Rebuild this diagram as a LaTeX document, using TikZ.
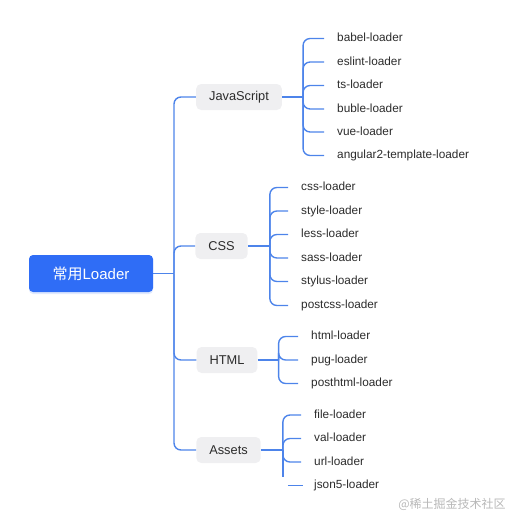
\documentclass[tikz,border=0pt]{standalone}
\usepackage{fontspec}
\setmainfont{Liberation Sans}
\newfontfamily\cjk{Noto Sans CJK SC}
\usetikzlibrary{positioning, shadows}

\definecolor{rootblue}{HTML}{2F6DF6}
\definecolor{linkblue}{HTML}{4D84EA}
\definecolor{catgrey}{HTML}{EFEFF1}
\definecolor{inkgrey}{HTML}{2B2B2B}

\tikzset{
  link/.style={draw=linkblue, line width=1.4pt, rounded corners=7pt},
  tip/.style={link, shorten >=13pt},
  rootbox/.style={fill=rootblue, text=white, rounded corners=4pt, minimum width=124pt, minimum height=37pt,
    font=\fontsize{15}{18}\selectfont, drop shadow={shadow xshift=0pt, shadow yshift=-2pt, opacity=0.15, fill=rootblue}},
  catbox/.style={fill=catgrey, rounded corners=5pt, inner xsep=13pt, minimum height=26pt, text=inkgrey,
    font=\fontsize{12.8}{15}\selectfont},
  leaf/.style={anchor=west, inner xsep=0pt, text height=8.5pt, text depth=2.5pt, text=inkgrey,
    font=\fontsize{11.8}{14}\selectfont},
  stamp/.style={text=black!28, font=\fontsize{12}{14}\selectfont}
}

\begin{document}
\begin{tikzpicture}[x=1pt, y=-1pt]
  \useasboundingbox (0,0) rectangle (513,525);

  % root and its four groups
  \node[rootbox] (root) at (91,273.5) {{\cjk 常用}Loader};
  \node[catbox] (js) at (239,97) {JavaScript};
  \node[catbox] (css) at (221.5,246) {CSS};
  \node[catbox] (html) at (227,360) {HTML};
  \node[catbox] (assets) at (228.5,450) {Assets};

  \coordinate (trunk) at (174,273.5);
  \draw[link] (root.east) -- (trunk);
  \draw[link] (trunk) |- (js.west);
  \draw[link] (trunk) |- (css.west);
  \draw[link] (trunk) |- (html.west);
  \draw[link] (trunk) |- (assets.west);

  % JavaScript
  \node[leaf] (babel) at (337,38.5) {babel-loader};
  \node[leaf] (eslint) at (337,62) {eslint-loader};
  \node[leaf] (ts) at (337,85.5) {ts-loader};
  \node[leaf] (buble) at (337,109) {buble-loader};
  \node[leaf] (vue) at (337,132) {vue-loader};
  \node[leaf] (angular) at (337,155.5) {angular2-template-loader};
  \draw[link] (js.east) -- ++(21,0) coordinate (jsb);
  \draw[tip] (jsb) |- (babel.west); \draw[tip] (jsb) |- (eslint.west);
  \draw[tip] (jsb) |- (ts.west); \draw[tip] (jsb) |- (buble.west);
  \draw[tip] (jsb) |- (vue.west); \draw[tip] (jsb) |- (angular.west);

  % CSS
  \node[leaf] (cssl) at (301,187.5) {css-loader};
  \node[leaf] (style) at (301,211) {style-loader};
  \node[leaf] (less) at (301,234.5) {less-loader};
  \node[leaf] (sass) at (301,258) {sass-loader};
  \node[leaf] (stylus) at (301,281.5) {stylus-loader};
  \node[leaf] (postcss) at (301,305.5) {postcss-loader};
  \draw[link] (css.east) -- ++(22,0) coordinate (cssb);
  \draw[tip] (cssb) |- (cssl.west); \draw[tip] (cssb) |- (style.west);
  \draw[tip] (cssb) |- (less.west); \draw[tip] (cssb) |- (sass.west);
  \draw[tip] (cssb) |- (stylus.west); \draw[tip] (cssb) |- (postcss.west);

  % HTML
  \node[leaf] (htmll) at (311,336.5) {html-loader};
  \node[leaf] (pug) at (311,360) {pug-loader};
  \node[leaf] (posthtml) at (311,383.5) {posthtml-loader};
  \draw[link] (html.east) -- ++(21,0) coordinate (htmlb);
  \draw[tip] (htmlb) |- (htmll.west); \draw[tip] (htmlb) |- (pug.west);
  \draw[tip] (htmlb) |- (posthtml.west);

  % Assets
  \node[leaf] (file) at (314,415) {file-loader};
  \node[leaf] (val) at (314,438.5) {val-loader};
  \node[leaf] (url) at (314,462) {url-loader};
  \node[leaf] (json) at (314,485.5) {json5-loader};
  \draw[link] (assets.east) -- ++(22,0) coordinate (assetsb);
  \draw[tip] (assetsb) |- (file.west); \draw[tip] (assetsb) |- (val.west);
  \draw[tip] (assetsb) |- (url.west);
  \draw[link] (assetsb) -- ++(0,27);
  \draw[link, shorten >=11pt] ([xshift=5pt]json.west -| assetsb) -- (json.west);

  \node[stamp] (mark) at (452,504) {\cjk @稀土掘金技术社区};
\end{tikzpicture}
\end{document}
